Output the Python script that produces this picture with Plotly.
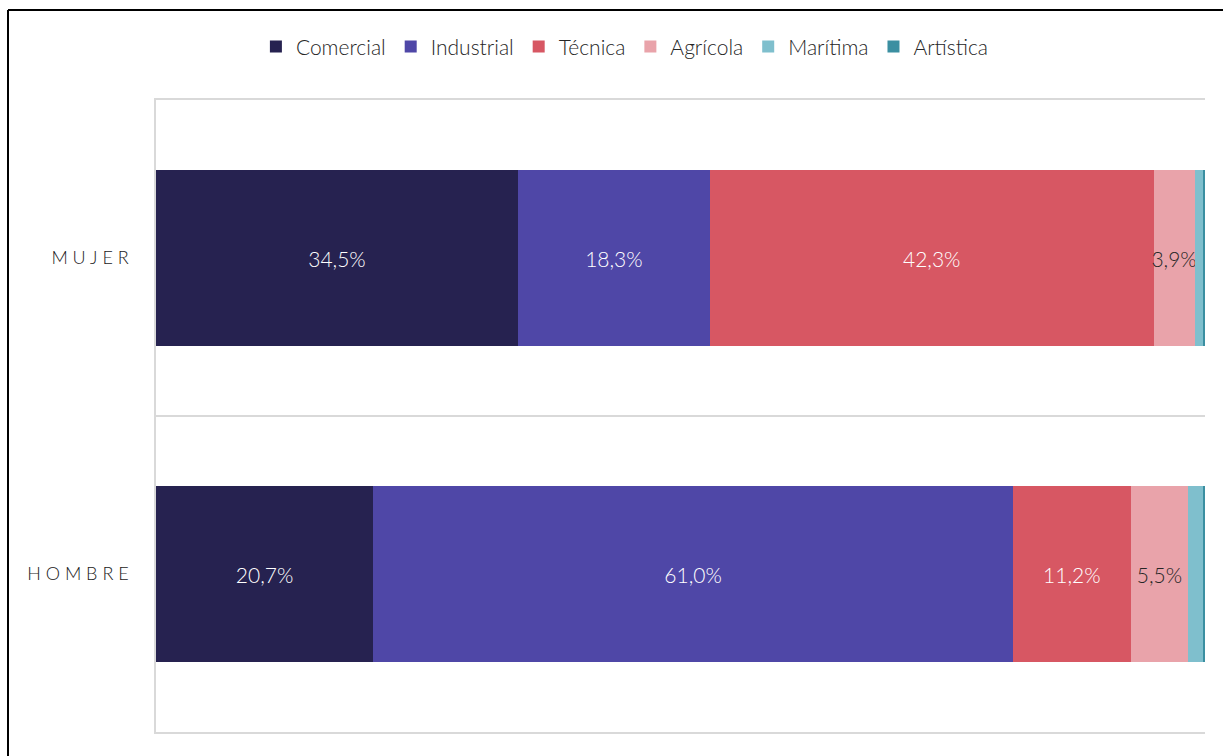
import plotly.graph_objects as go

# categories (bottom to top)
sexes = ["H O M B R E", "M U J E R"]

especialidades = ["Comercial", "Industrial", "Técnica", "Agrícola", "Marítima", "Artística"]
colores = ["#262250", "#4F47A7", "#D75763", "#E9A3AA", "#7FBFCD", "#3B8FA1"]

# percentages per sex (hombre, mujer)
comercial = [20.7, 34.5]
industrial = [61.0, 18.3]
tecnica = [11.2, 42.3]
agricola = [5.5, 3.9]
maritima = [1.5, 0.8]
artistica = [0.1, 0.2]

valores = [comercial, industrial, tecnica, agricola, maritima, artistica]
etiquetas_visibles = [True, True, True, True, False, False]
color_texto = ["white", "white", "white", "#262626", "#262626", "#262626"]

fig = go.Figure()
for nombre, color, vals, visible, tcol in zip(especialidades, colores, valores, etiquetas_visibles, color_texto):
    text = [f"{v:.1f}%".replace(".", ",") if visible else "" for v in vals]
    fig.add_trace(go.Bar(
        name=nombre,
        y=sexes,
        x=vals,
        orientation="h",
        marker=dict(color=color, line=dict(width=0)),
        text=text,
        textposition="inside",
        insidetextanchor="middle",
        textangle=0,
        constraintext="none",
        textfont=dict(color=tcol, size=21, family="Lato", weight=300),
    ))

# outer frame of the original chart (only top and left edges are visible)
border_left = (8 - 156) / 1049
border_top = 1 + (100 - 10) / 632

fig.update_layout(
    barmode="stack",
    bargap=0.443,
    width=1223,
    height=756,
    margin=dict(l=156, r=18, t=100, b=24),
    paper_bgcolor="white",
    plot_bgcolor="white",
    font=dict(family="Lato", color="#262626"),
    legend=dict(
        orientation="h",
        x=0.447, xanchor="center",
        y=1.084, yanchor="middle",
        font=dict(size=21, color="#262626", weight=300),
        traceorder="normal",
        itemwidth=30,
    ),
    xaxis=dict(
        range=[0, 100], showticklabels=False, showgrid=False, zeroline=False,
        showline=True, mirror=True, linecolor="#D9D9D9", linewidth=1.5,
    ),
    yaxis=dict(
        tickson="boundaries",
        showgrid=True, gridcolor="#D9D9D9", gridwidth=1.5,
        showline=True, linecolor="#D9D9D9", linewidth=1.5,
        ticks="", tickfont=dict(size=18, color="#1A1A1A", weight=300),
        ticklabelstandoff=22,
    ),
    shapes=[
        dict(type="line", xref="paper", yref="paper",
             x0=border_left, x1=1.3, y0=border_top, y1=border_top,
             line=dict(color="black", width=2), layer="above"),
        dict(type="line", xref="paper", yref="paper",
             x0=border_left, x1=border_left, y0=-0.2, y1=border_top,
             line=dict(color="black", width=2), layer="above"),
    ],
)

# drop the default page margin and scrollbars so the figure fills the window
fig.write_html(
    "out.html",
    config={"displayModeBar": False},
    post_script="document.body.style.margin='0';document.body.style.overflow='hidden';",
)
